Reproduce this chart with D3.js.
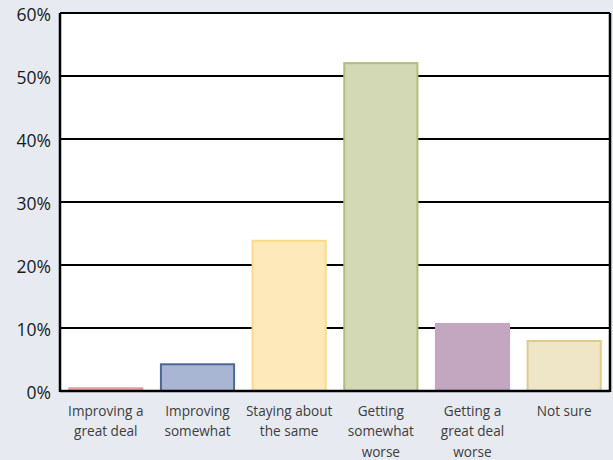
<!DOCTYPE html>
<html>
<head>
<meta charset="utf-8">
<script src="https://cdn.jsdelivr.net/npm/d3@7"></script>
<style>
  html, body { margin: 0; padding: 0; background: #e8eaf2; }
  svg { display: block; }
</style>
</head>
<body>
<script>
// Survey responses: share of respondents per answer
const categories = [
  ["Improving a", "great deal"],
  ["Improving", "somewhat"],
  ["Staying about", "the same"],
  ["Getting", "somewhat", "worse"],
  ["Getting a", "great deal", "worse"],
  ["Not sure"]
];
const values = [0.6, 4.4, 24, 52.2, 10.8, 8.1];
const fills = ["#e9a9ab", "#a8b5d3", "#fde9b9", "#d3d8b5", "#c3a6bf", "#efe5c7"];
const strokes = ["#e3a0a3", "#4f6694", "#fdda8a", "#b3bc80", "#c3a6bf", "#dccb8c"];
const tickValues = [0, 10, 20, 30, 40, 50, 60];

const W = 613, H = 460;
const margin = { top: 13, right: 3, bottom: 69, left: 60 };
const iw = W - margin.left - margin.right;
const ih = H - margin.top - margin.bottom;

const svg = d3.select("body").append("svg").attr("width", W).attr("height", H);
const g = svg.append("g").attr("transform", `translate(${margin.left},${margin.top})`);

const x = d3.scaleBand().domain(d3.range(categories.length)).range([0, iw])
  .paddingInner(0.18).paddingOuter(0.09);
const y = d3.scaleLinear().domain([0, 60]).range([ih, 0]);

// plot background
g.append("rect").attr("width", iw).attr("height", ih).attr("fill", "#ffffff");

// horizontal grid lines
g.selectAll("line.grid").data(tickValues).join("line")
  .attr("class", "grid")
  .attr("x1", 0).attr("x2", iw)
  .attr("y1", d => y(d)).attr("y2", d => y(d))
  .attr("stroke", "#000").attr("stroke-width", 2.2);

// bars
g.selectAll("rect.bar").data(values).join("rect")
  .attr("class", "bar")
  .attr("x", (d, i) => x(i) + 1)
  .attr("width", x.bandwidth() - 2)
  .attr("y", d => y(d) + 1)
  .attr("height", d => Math.max(0, ih - y(d) - 1))
  .attr("fill", (d, i) => fills[i])
  .attr("stroke", (d, i) => strokes[i])
  .attr("stroke-width", 2);

// frame
g.append("line").attr("x1", 0).attr("x2", 0).attr("y1", 0).attr("y2", ih + 1)
  .attr("stroke", "#000").attr("stroke-width", 2.5);
g.append("line").attr("x1", iw).attr("x2", iw).attr("y1", 0).attr("y2", ih + 1)
  .attr("stroke", "#000").attr("stroke-width", 2.5);
g.append("line").attr("x1", 0).attr("x2", iw).attr("y1", ih).attr("y2", ih)
  .attr("stroke", "#000").attr("stroke-width", 2.5);

// y axis labels
const yAxis = d3.axisLeft(y).tickValues(tickValues).tickFormat(d => d + "%").tickSize(0).tickPadding(9);
const ya = g.append("g").call(yAxis);
ya.select(".domain").remove();
ya.selectAll("text")
  .attr("font-family", "'Open Sans', sans-serif")
  .attr("font-size", 17.5)
  .attr("fill", "#1a1a1a")
  .attr("dy", "0.4em");

// category labels
const labels = g.append("g").selectAll("text").data(categories).join("text")
  .attr("x", (d, i) => x(i) + x.bandwidth() / 2)
  .attr("y", ih + 24.5)
  .attr("text-anchor", "middle")
  .attr("font-family", "'Open Sans', sans-serif")
  .attr("font-size", 13.6)
  .attr("fill", "#3d3d3d");
labels.selectAll("tspan").data(d => d).join("tspan")
  .attr("x", function () { return d3.select(this.parentNode).attr("x"); })
  .attr("dy", (d, i) => i === 0 ? 0 : 20.5)
  .text(d => d);
</script>
</body>
</html>
